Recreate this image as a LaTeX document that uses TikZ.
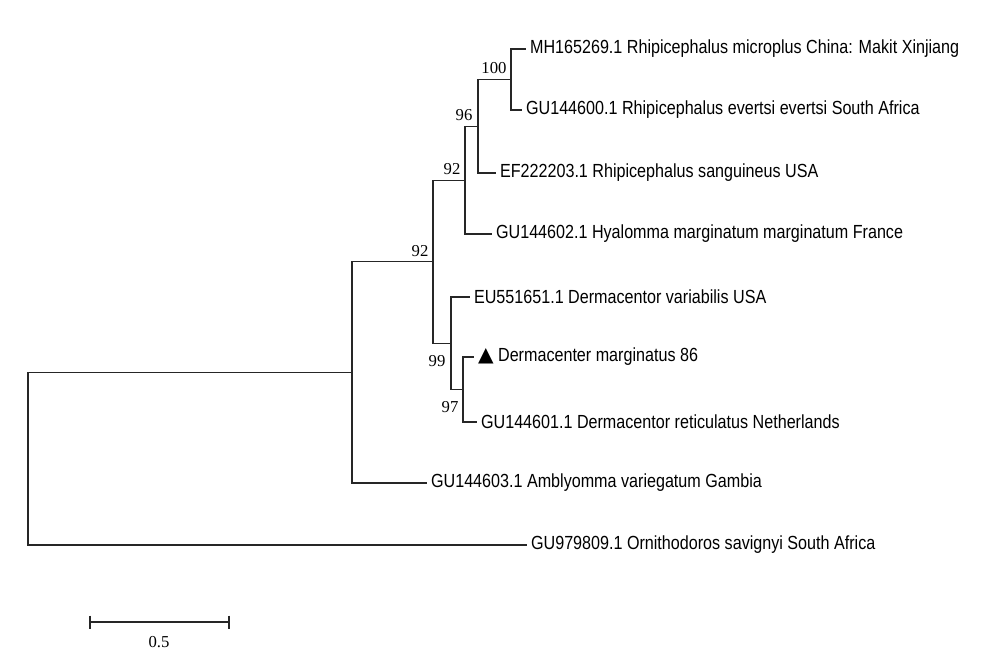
\documentclass[tikz,border=0pt]{standalone}
\usepackage{fontspec}
\setmainfont{Liberation Serif}
\newfontfamily\leaffont[FakeStretch=0.85]{Liberation Sans}
\newfontfamily\symfont{DejaVu Sans}
\begin{document}
\begin{tikzpicture}[x=0.02cm, y=-0.02cm, line width=0.65pt, draw=black!85,
	leaf/.style={anchor=west, inner sep=2pt, font=\leaffont\fontsize{10.8}{12}\selectfont},
	boot/.style={inner sep=0pt, font=\fontsize{9.5}{11}\selectfont}]
	\useasboundingbox (0,0) rectangle (1000,658);
		% inner nodes of the tree
		\coordinate (root) at (28,458.7);
		\coordinate (A) at (352,372.3);
		\coordinate (B) at (433,261.7);
		\coordinate (C) at (465,180.1);
		\coordinate (D) at (478,126.3);
		\coordinate (E) at (511,79.5);
		\coordinate (F) at (451,343.3);
		\coordinate (G) at (463,389.5);
		% leaves
		\node[leaf] (mh) at (526,49) {MH165269.1 Rhipicephalus microplus China: Makit Xinjiang};
		\node[leaf] (gu600) at (522,110) {GU144600.1 Rhipicephalus evertsi evertsi South Africa};
		\node[leaf] (ef) at (496,173) {EF222203.1 Rhipicephalus sanguineus USA};
		\node[leaf] (gu602) at (492,234) {GU144602.1 Hyalomma marginatum marginatum France};
		\node[leaf] (eu) at (470,297) {EU551651.1 Dermacentor variabilis USA};
		\node[leaf] (derm) at (474,357) {{\symfont\fontsize{11.5}{12}\selectfont ▲} Dermacenter marginatus 86};
		\node[leaf] (gu601) at (477,422) {GU144601.1 Dermacentor reticulatus Netherlands};
		\node[leaf] (amb) at (427,483) {GU144603.1 Amblyomma variegatum Gambia};
		\node[leaf] (orn) at (527,545) {GU979809.1 Ornithodoros savignyi South Africa};
		\draw (root) |- (A); \draw (root) |- (orn.west);
		\draw (A) |- (B); \draw (A) |- (amb.west);
		\draw (B) |- (C); \draw (B) |- (F);
		\draw (C) |- (D); \draw (C) |- (gu602.west);
		\draw (D) |- (E); \draw (D) |- (ef.west);
		\draw (E) |- (mh.west); \draw (E) |- (gu600.west);
		\draw (F) |- (eu.west); \draw (F) |- (G);
		\draw (G) |- (derm.west); \draw (G) |- (gu601.west);
		% bootstrap values
		\node[boot] (b100) at (494,68) {100};
		\node[boot] (b96) at (464,115) {96};
		\node[boot] (b92a) at (452,169) {92};
		\node[boot] (b92b) at (420,251) {92};
		\node[boot] (b99) at (437,361) {99};
		\node[boot] (b97) at (450,407) {97};
		% scale bar
		\coordinate (s0) at (90,622);
		\coordinate (s1) at (229,622);
		\draw (s0) -- (s1);
		\draw ([yshift=0.13cm]s0) -- ([yshift=-0.13cm]s0);
		\draw ([yshift=0.13cm]s1) -- ([yshift=-0.13cm]s1);
		\node[boot] (len) at (159,642) {0.5};
\end{tikzpicture}
\end{document}
